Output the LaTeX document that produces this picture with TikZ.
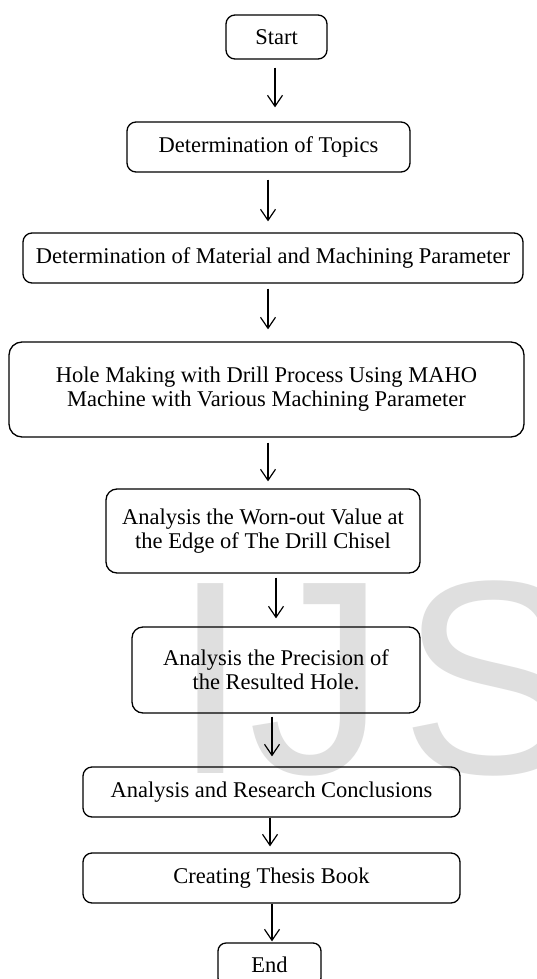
\documentclass[tikz,border=0pt]{standalone}
\usepackage{fontspec}
\setmainfont{Liberation Serif}
\newfontfamily\markfont{Liberation Sans}
\usetikzlibrary{arrows.meta}

\tikzset{
  stepbox/.style={draw, line width=1.3pt, rounded corners=9pt, align=center,
    inner sep=0pt, font=\fontsize{22.5}{24}\selectfont},
  arr/.style={line width=1.2pt, -{Straight Barb[length=11pt,width=15pt,line width=1.2pt]}},
  markletter/.style={anchor=base west, inner sep=0pt, text=gray!25,
    font=\markfont\fontsize{276}{276}\selectfont},
}

% one arrow from the bottom of #1 down to the top of #2, shifted by #3 pt,
% with gaps #4 (start) and #5 (tip)
\newcommand\flowstep[5]{%
  \path ([xshift=#3pt]#1.south) coordinate (#1-out);
  \draw[arr, shorten <=#4pt, shorten >=#5pt] (#1-out) -- (#1-out |- #2.north);
}

\begin{document}
\begin{tikzpicture}[x=1pt, y=-1pt]
  \clip (0,0) rectangle (536,979);
  \fill[white] (0,0) rectangle (536,979);

  % watermark letters
  \node[markletter] (markI) at (172,773) {I};
  \node[markletter] (markJ) at (248,773) {J};
  \node[markletter] (markS) at (400,773) {S};

  \node[stepbox, minimum width=101pt, minimum height=44pt] (s) at (276.5,37) {Start};
  \node[stepbox, minimum width=283pt, minimum height=50pt] (t) at (268.5,147) {Determination of Topics};
  \node[stepbox, minimum width=500pt, minimum height=50pt] (m) at (273,258) {Determination of Material and Machining Parameter};
  \node[stepbox, rounded corners=13pt, minimum width=515pt, minimum height=95pt] (h) at (266.5,389.5)
    {Hole Making with Drill Process Using MAHO\\Machine with Various Machining Parameter};
  \node[stepbox, rounded corners=11pt, minimum width=314pt, minimum height=84pt] (w) at (263,531)
    {Analysis the Worn-out Value at\\the Edge of The Drill Chisel};
  \node[stepbox, rounded corners=11pt, minimum width=288pt, minimum height=86pt] (p) at (276,670)
    {Analysis the Precision of\\the Resulted Hole.};
  \node[stepbox, minimum width=377pt, minimum height=50pt] (c) at (271.5,792) {Analysis and Research Conclusions};
  \node[stepbox, minimum width=377pt, minimum height=50pt] (b) at (271.5,878) {Creating Thesis Book};
  \node[stepbox, rounded corners=8pt, minimum width=103pt, minimum height=43pt] (e) at (269.5,964.5) {End};

  \flowstep{s}{t}{-1.5}{8}{14}
  \flowstep{t}{m}{-0.5}{7}{11}
  \flowstep{m}{h}{-5}{5}{12}
  \flowstep{h}{w}{1.5}{5}{7}
  \flowstep{w}{p}{13}{4}{8}
  \flowstep{p}{c}{-4}{3}{10}
  \flowstep{c}{b}{-1.5}{0}{6}
  \flowstep{b}{e}{0.5}{0}{1}
\end{tikzpicture}
\end{document}
